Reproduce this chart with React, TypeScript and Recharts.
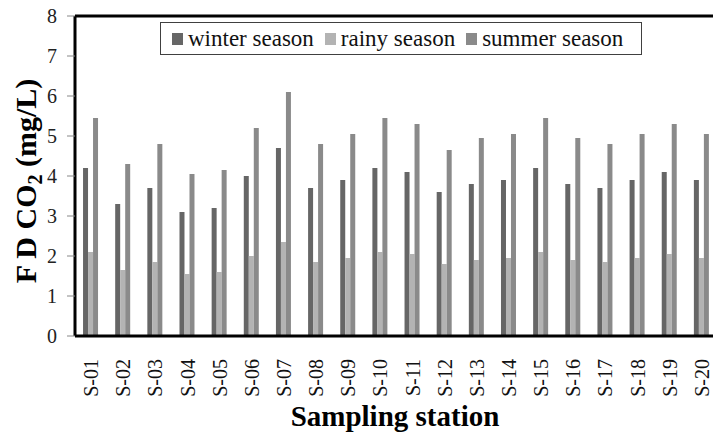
import React from 'react';
import { BarChart, Bar, XAxis, YAxis, ReferenceLine } from 'recharts';

const categories = ['S-01','S-02','S-03','S-04','S-05','S-06','S-07','S-08','S-09','S-10','S-11','S-12','S-13','S-14','S-15','S-16','S-17','S-18','S-19','S-20'];
const winter = [4.2,3.3,3.7,3.1,3.2,4.0,4.7,3.7,3.9,4.2,4.1,3.6,3.8,3.9,4.2,3.8,3.7,3.9,4.1,3.9];
const rainy = [2.1,1.65,1.85,1.55,1.6,2.0,2.35,1.85,1.95,2.1,2.05,1.8,1.9,1.95,2.1,1.9,1.85,1.95,2.05,1.95];
const summer = [5.45,4.3,4.8,4.05,4.15,5.2,6.1,4.8,5.05,5.45,5.3,4.65,4.95,5.05,5.45,4.95,4.8,5.05,5.3,5.05];
const seriesNames = ['winter season','rainy season','summer season'];
const seriesColors = ['#666666','#b3b3b3','#8a8a8a'];
const yTicks = [0,1,2,3,4,5,6,7,8];

const data = categories.map((c, i) => ({ name: c, winter: winter[i], rainy: rainy[i], summer: summer[i] }));
const keys = ['winter','rainy','summer'];

const FONT = 'Liberation Serif';

const XTick = (props: any) => {
  const { x, y, payload } = props;
  return (
    <text
      transform={`translate(${x},${y + 15}) rotate(-90)`}
      textAnchor="end"
      dy="0.35em"
      fontSize={20}
      fontFamily={FONT}
      style={{ fontFamily: FONT }}
      fill="#111"
    >
      {payload.value}
    </text>
  );
};

export default function App() {
  return (
    <div style={{ position: 'absolute', left: 0, top: 0, width: 713, height: 433, overflow: 'hidden', background: '#fff', fontFamily: FONT }}>
      <BarChart
        width={730}
        height={433}
        data={data}
        margin={{ top: 16, right: 12, bottom: 0, left: 0 }}
        barCategoryGap="25%"
        barGap={0}
        style={{ fontFamily: FONT }}
      >
        <XAxis
          dataKey="name"
          interval={0}
          tickLine={false}
          height={97}
          axisLine={{ stroke: '#000', strokeWidth: 3 }}
          tick={<XTick />}
        />
        <YAxis
          type="number"
          domain={[0, 8]}
          ticks={yTicks}
          width={75}
          tickSize={8}
          tickMargin={10}
          interval={0}
          tickLine={{ stroke: '#888' }}
          axisLine={{ stroke: '#000', strokeWidth: 3 }}
          tick={{ fontSize: 20, fontFamily: FONT, fill: '#222', style: { fontFamily: FONT } }}
        />
        <ReferenceLine y={8} stroke="#000" strokeWidth={3} ifOverflow="visible" />
        {keys.map((k, i) => (
          <Bar key={k} dataKey={k} name={seriesNames[i]} fill={seriesColors[i]} isAnimationActive={false} />
        ))}
        <text
          transform="translate(36,181) rotate(-90)"
          textAnchor="middle"
          fontSize={30}
          fontWeight="bold"
          fontFamily={FONT}
          style={{ fontFamily: FONT }}
          fill="#000"
        >
          <tspan>F D CO</tspan>
          <tspan fontSize={20} dy={6}>2</tspan>
          <tspan dy={-6}> (mg/L)</tspan>
        </text>
        <text
          x={395}
          y={426}
          textAnchor="middle"
          fontSize={29}
          fontWeight="bold"
          fontFamily={FONT}
          style={{ fontFamily: FONT }}
          fill="#000"
        >
          Sampling station
        </text>
      </BarChart>
      <div
        style={{
          position: 'absolute',
          left: 160,
          top: 22,
          width: 469,
          height: 31,
          border: '1.5px solid #404040',
          background: '#fff',
          display: 'flex',
          alignItems: 'center',
          fontFamily: FONT,
          fontSize: 23,
          color: '#111',
          paddingLeft: 11,
          boxSizing: 'content-box',
          whiteSpace: 'nowrap',
        }}
      >
        {seriesNames.map((n, i) => (
          <div key={n} style={{ display: 'flex', alignItems: 'center', marginRight: i < 2 ? 11 : 0 }}>
            <span style={{ display: 'inline-block', width: 11, height: 12, background: seriesColors[i], marginRight: 5 }} />
            <span style={{ lineHeight: '31px' }}>{n}</span>
          </div>
        ))}
      </div>
    </div>
  );
}
